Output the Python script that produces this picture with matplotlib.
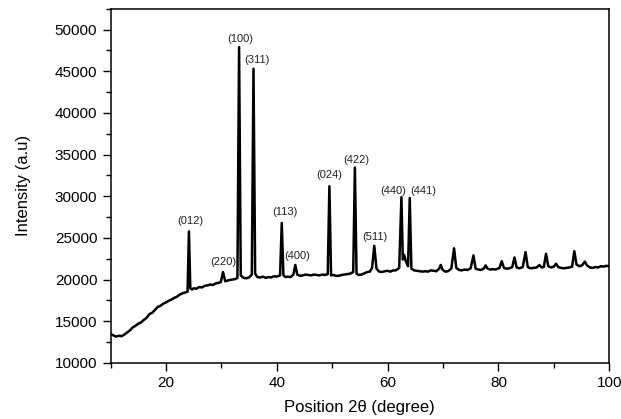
import matplotlib
matplotlib.use("Agg")
import matplotlib.pyplot as plt
from matplotlib.ticker import MultipleLocator

plt.rcParams['font.family'] = ['Liberation Sans', 'DejaVu Sans']

# XRD pattern (2theta in degrees, counts)
two_theta = [
    10.0, 10.5, 11.0, 11.5, 12.0, 12.5, 13.0, 13.5, 14.0, 14.5, 15.0, 15.5,
    16.0, 16.5, 17.0, 17.5, 18.0, 18.5, 19.0, 19.5, 20.0, 20.5, 21.0, 21.5,
    22.0, 22.5, 23.0, 23.5, 23.9, 24.15, 24.4, 24.7, 25.0, 25.5, 26.0, 26.5,
    27.0, 27.5, 28.0, 28.5, 29.0, 29.5, 29.9, 30.3, 30.7, 31.0, 31.5, 32.0,
    32.5, 32.9, 33.2, 33.5, 34.0, 34.5, 35.0, 35.5, 35.8, 36.1, 36.5, 37.0,
    37.5, 38.0, 38.5, 39.0, 39.5, 40.0, 40.6, 40.9, 41.2, 41.6, 42.0, 42.5,
    43.0, 43.35, 43.7, 44.2, 44.7, 45.2, 45.7, 46.2, 46.7, 47.2, 47.7, 48.2,
    48.7, 49.2, 49.5, 49.8, 50.2, 50.7, 51.2, 51.7, 52.2, 52.7, 53.2, 53.8,
    54.1, 54.4, 54.8, 55.3, 55.8, 56.3, 56.8, 57.2, 57.6, 58.0, 58.5, 59.0,
    59.5, 60.0, 60.5, 61.0, 61.5, 62.1, 62.5, 62.75, 63.0, 63.3, 63.7, 64.0,
    64.3, 64.8, 65.3, 65.8, 66.3, 66.8, 67.3, 67.8, 68.3, 68.8, 69.3, 69.6,
    69.9, 70.4, 70.9, 71.5, 72.0, 72.4, 72.9, 73.4, 73.9, 74.4, 75.0, 75.5,
    75.9, 76.4, 76.9, 77.4, 77.7, 78.0, 78.5, 79.0, 79.5, 80.2, 80.6, 81.0,
    81.5, 82.0, 82.5, 82.9, 83.3, 83.8, 84.4, 84.9, 85.3, 85.8, 86.3, 86.9,
    87.4, 87.8, 88.2, 88.6, 89.0, 89.5, 90.0, 90.4, 90.8, 91.3, 91.8, 92.3,
    92.8, 93.3, 93.7, 94.1, 94.6, 95.1, 95.6, 96.0, 96.5, 97.0, 97.5, 98.0,
    98.5, 99.0, 99.5, 100.0,
]
intensity = [
    13500, 13300, 13150, 13250, 13200, 13400, 13650, 13900, 14250, 14450, 14700, 14850,
    15150, 15400, 15850, 16000, 16350, 16700, 16850, 17100, 17250, 17450, 17600, 17800,
    17950, 18200, 18350, 18450, 18550, 25780, 18950, 18800, 18950, 18900, 19100, 19050,
    19250, 19300, 19400, 19350, 19550, 19600, 19700, 20900, 19800, 19850, 19950, 20000,
    20050, 20200, 47900, 20500, 20200, 20150, 20250, 20600, 45300, 20700, 20300, 20250,
    20350, 20200, 20300, 20250, 20400, 20350, 20500, 26800, 20500, 20300, 20350, 20300,
    20600, 21750, 20600, 20450, 20500, 20600, 20550, 20500, 20600, 20550, 20500, 20600,
    20550, 20650, 31200, 20500, 20550, 20450, 20450, 20550, 20600, 20650, 20700, 20900,
    33450, 20700, 20550, 20600, 20750, 20900, 20950, 21400, 24050, 21300, 20950, 20900,
    21000, 21050, 20950, 21100, 21100, 21400, 29900, 22400, 22950, 22200, 21600, 29800,
    21300, 21100, 21050, 21000, 20950, 21000, 20950, 21100, 21050, 21000, 21300, 21750,
    21200, 20950, 21000, 21300, 23750, 21400, 21150, 21100, 21200, 21150, 21350, 22900,
    21300, 21200, 21150, 21350, 21700, 21350, 21200, 21250, 21200, 21400, 22200, 21400,
    21300, 21350, 21500, 22650, 21450, 21350, 21500, 23300, 21500, 21350, 21400, 21450,
    21750, 21450, 21500, 23100, 21600, 21450, 21550, 21900, 21500, 21400, 21350, 21400,
    21450, 21550, 23400, 21800, 21600, 21700, 22150, 21700, 21450, 21400, 21500, 21450,
    21600, 21550, 21650, 21600,
]

# indexed reflections
hkl_labels = ['(012)', '(220)', '(100)', '(311)', '(113)', '(400)',
              '(024)', '(422)', '(511)', '(440)', '(441)']
peak_pos = [24.15, 30.3, 33.2, 35.8, 40.9, 43.35, 49.5, 54.1, 57.6, 62.5, 64.0]
peak_height = [25780, 20900, 47900, 45300, 26800, 21750, 31200, 33450, 24050, 29900, 29800]
# label offsets from the peak top, in pixels
label_offsets = [(1, 5), (0, 5), (1, 3), (3, 4), (3, 6), (2, 4),
                 (0, 6), (1, 2), (1, 4), (-8, 1), (14, 2)]

fig = plt.figure(figsize=(6.21, 4.19), dpi=100)
ax = fig.add_axes([0.178, 0.134, 0.803, 0.845])

ax.plot(two_theta, intensity, color='black', linewidth=1.8)

for lab, x, y, off in zip(hkl_labels, peak_pos, peak_height, label_offsets):
    ax.annotate(lab, xy=(x, y), xytext=off, textcoords='offset pixels',
                ha='center', va='bottom', fontsize=8, color='#222222')

ax.set_xlim(10, 100)
ax.set_ylim(10000, 52500)
ax.xaxis.set_major_locator(MultipleLocator(20))
ax.xaxis.set_minor_locator(MultipleLocator(10))
ax.yaxis.set_major_locator(MultipleLocator(5000))
ax.yaxis.set_minor_locator(MultipleLocator(2500))
ax.tick_params(which='both', direction='out', top=False, right=False,
               labelsize=11, width=1)
ax.tick_params(which='major', length=5.5, pad=4)
ax.tick_params(which='minor', length=3.5)
for sp in ax.spines.values():
    sp.set_linewidth(1.1)

ax.set_xlabel('Position 2θ (degree)', fontsize=12, labelpad=7)
ax.set_ylabel('Intensity (a.u)', fontsize=12, labelpad=17)

fig.savefig('out.png', dpi=100)
